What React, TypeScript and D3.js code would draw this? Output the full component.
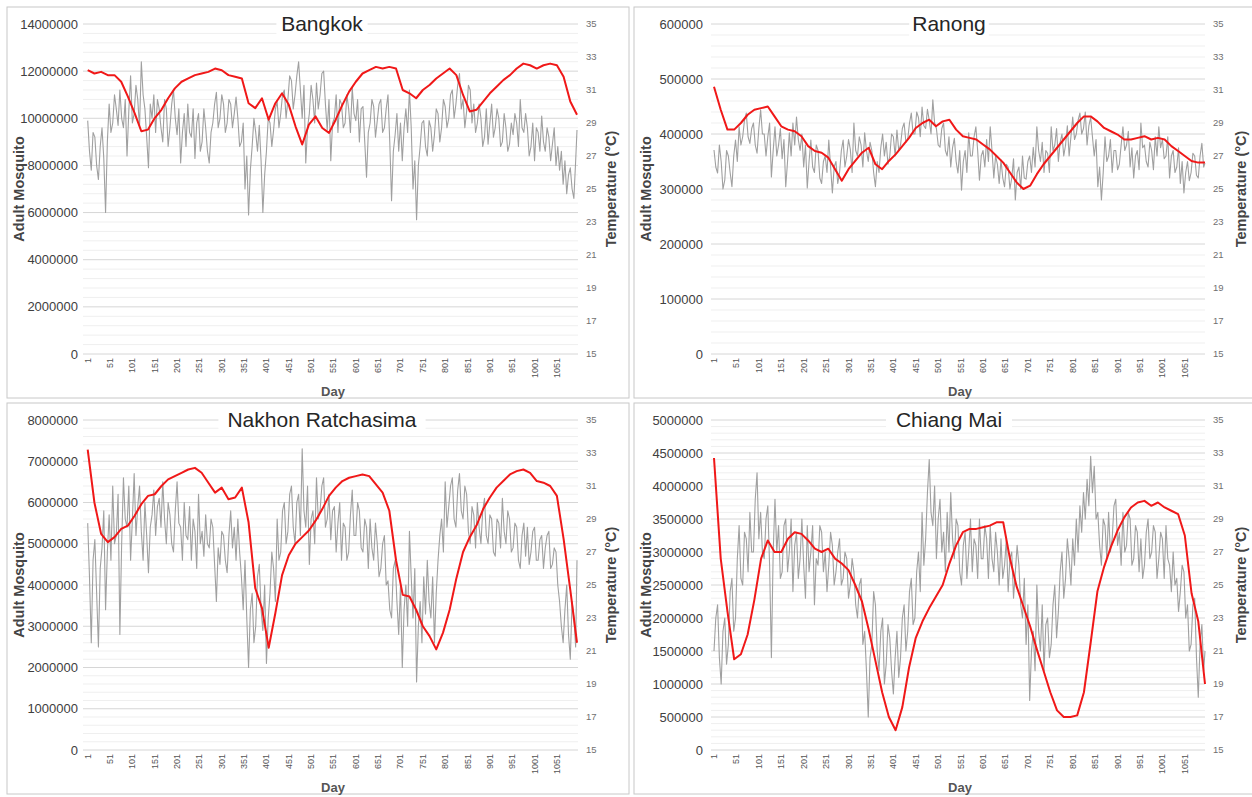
import React from 'react';
import * as d3 from 'd3';

// ---------- data ----------
const GREY_STEP = 4; // mosquito read every 4 days
const RED_STEP = 15; // temperature read every 15 days
const LAST_DAY = 1096;
const dayTicks = [1, 51, 101, 151, 201, 251, 301, 351, 401, 451, 501, 551, 601, 651, 701, 751, 801, 851, 901, 951, 1001, 1051];
const tempTicks = [15, 17, 19, 21, 23, 25, 27, 29, 31, 33, 35];

// Bangkok adult mosquito (millions)
const bangkokMosquito = [
  9.9, 8.6, 7.8, 9.4, 9.2, 8.0, 7.4, 8.8, 9.6, 8.3,
  6.0, 9.0, 10.6, 9.4, 9.8, 11.0, 10.4, 9.7, 11.2, 10.0,
  9.6, 10.8, 8.4, 10.3, 11.8, 9.8, 10.2, 11.4, 10.8, 9.6,
  12.4, 11.0, 10.4, 9.2, 7.9, 10.6, 10.0, 11.0, 9.4, 10.8,
  10.4, 9.6, 9.0, 10.8, 10.4, 8.8, 9.6, 10.6, 11.2, 10.0,
  9.3, 10.4, 8.1, 9.4, 10.2, 8.8, 10.6, 9.4, 9.2, 10.4,
  8.3, 9.8, 10.2, 8.6, 9.0, 10.4, 9.6, 8.6, 8.1, 9.4,
  9.8, 10.6, 11.1, 9.6, 10.0, 11.0, 10.6, 9.4, 9.8, 10.8,
  10.6, 9.6, 10.2, 10.9, 10.0, 8.8, 9.0, 9.8, 7.0, 8.4,
  5.9, 7.8, 8.8, 10.0, 9.4, 8.6, 9.7, 8.2, 6.0, 7.6,
  8.6, 10.0, 9.8, 8.8, 9.5, 10.4, 10.7, 9.6, 10.2, 11.0,
  11.2, 10.0, 10.8, 11.8, 11.6, 10.4, 11.0, 11.8, 12.4, 11.2,
  10.0, 11.4, 8.1, 9.6, 10.2, 11.4, 10.8, 9.8, 11.5, 10.4,
  11.0, 11.9, 12.0, 10.6, 9.5, 10.8, 8.2, 9.8, 10.0, 11.0,
  9.4, 10.8, 10.6, 9.6, 9.8, 11.0, 10.4, 9.4, 11.3, 10.2,
  9.9, 10.8, 9.0, 10.4, 10.5, 9.0, 7.5, 9.4, 9.8, 10.8,
  10.5, 9.2, 9.9, 10.6, 10.8, 9.4, 9.6, 10.4, 11.0, 9.0,
  6.5, 8.6, 9.3, 10.2, 8.6, 9.8, 8.2, 9.6, 10.4, 9.4,
  11.2, 9.6, 7.0, 8.2, 5.7, 8.0, 8.8, 9.8, 9.9, 8.8,
  8.4, 9.9, 9.6, 8.6, 9.3, 10.4, 10.2, 9.0, 9.6, 10.8,
  10.5, 9.6, 10.0, 11.0, 11.2, 10.0, 10.6, 11.4, 11.9, 10.4,
  10.8, 9.6, 10.3, 11.4, 11.2, 9.8, 10.6, 9.4, 9.8, 10.6,
  10.0, 8.8, 9.2, 10.4, 8.9, 9.8, 10.6, 9.2, 9.6, 10.4,
  10.0, 8.8, 9.0, 10.2, 9.6, 8.6, 8.9, 9.8, 9.3, 10.2,
  9.8, 8.8, 10.8, 9.6, 9.4, 10.2, 9.6, 8.4, 8.8, 9.8,
  8.2, 9.6, 9.4, 8.6, 10.1, 9.0, 8.6, 9.6, 9.2, 8.2,
  8.9, 9.6, 8.0, 8.8, 7.8, 8.6, 7.2, 8.2, 6.8, 7.6,
  7.9, 7.0, 6.6, 8.2, 9.5,
];
// Bangkok temperature (°C)
const bangkokTemp = [
  32.2, 32.0, 32.1, 31.9, 31.9, 31.5, 30.6, 29.6, 28.5, 28.6, 29.3, 29.8, 30.5, 31.1, 31.5, 31.7, 31.9, 32.0, 32.1, 32.3,
  32.2, 31.9, 31.8, 31.7, 30.2, 29.9, 30.5, 29.2, 30.2, 30.8, 30.1, 28.8, 27.7, 28.9, 29.4, 28.7, 28.4, 29.2, 30.1, 30.9,
  31.5, 32.0, 32.2, 32.4, 32.3, 32.4, 32.3, 31.0, 30.8, 30.5, 31.0, 31.3, 31.7, 32.0, 32.3, 31.9, 30.7, 29.7, 29.8, 30.3,
  30.8, 31.2, 31.6, 31.9, 32.3, 32.6, 32.5, 32.3, 32.5, 32.6, 32.5, 31.8, 30.3, 29.5,
];

// Ranong adult mosquito (thousands)
const ranongMosquito = [
  371, 340, 329, 380, 350, 300, 316, 370, 360, 330,
  304, 360, 389, 350, 413, 380, 395, 425, 438, 395,
  383, 410, 420, 380, 365, 410, 444, 400, 400, 360,
  395, 420, 322, 370, 413, 360, 380, 410, 355, 390,
  304, 350, 402, 360, 420, 380, 431, 390, 370, 400,
  340, 380, 302, 350, 389, 340, 330, 380, 370, 320,
  310, 350, 360, 330, 389, 340, 293, 340, 350, 310,
  330, 370, 389, 340, 360, 390, 372, 330, 420, 370,
  360, 395, 380, 340, 402, 370, 350, 385, 370, 330,
  304, 350, 330, 375, 400, 360, 385, 345, 360, 400,
  395, 360, 407, 370, 380, 410, 420, 385, 390, 420,
  438, 400, 400, 440, 430, 395, 449, 415, 410, 445,
  425, 400, 462, 420, 410, 380, 376, 410, 420, 370,
  360, 395, 340, 375, 392, 350, 329, 370, 298, 350,
  370, 330, 402, 360, 360, 395, 413, 370, 316, 360,
  370, 340, 390, 350, 413, 370, 320, 360, 345, 310,
  353, 320, 304, 345, 340, 300, 320, 355, 280, 330,
  340, 300, 360, 320, 318, 350, 360, 330, 376, 340,
  413, 370, 350, 385, 330, 370, 365, 330, 413, 370,
  380, 410, 350, 385, 400, 360, 380, 415, 360, 395,
  431, 390, 400, 425, 438, 400, 410, 440, 380, 415,
  430, 395, 360, 390, 304, 340, 280, 330, 395, 350,
  360, 390, 330, 370, 370, 335, 345, 380, 413, 370,
  380, 405, 340, 375, 320, 360, 370, 335, 420, 375,
  380, 350, 340, 385, 370, 335, 395, 360, 413, 375,
  390, 355, 360, 395, 320, 360, 370, 330, 340, 375,
  310, 350, 293, 330, 350, 315, 330, 365, 360, 325,
  320, 360, 383, 340, 347,
];
// Ranong temperature (°C)
const ranongTemp = [
  31.2, 29.8, 28.6, 28.6, 29.0, 29.5, 29.8, 29.9, 30.0, 29.4, 28.8, 28.6, 28.5, 28.2, 27.6, 27.3, 27.2, 26.9, 26.2, 25.5,
  26.2, 26.7, 27.2, 27.5, 26.5, 26.2, 26.7, 27.1, 27.6, 28.1, 28.7, 29.0, 29.2, 28.8, 29.1, 29.2, 28.6, 28.2, 28.1, 28.0,
  27.7, 27.4, 27.0, 26.6, 26.0, 25.4, 25.0, 25.2, 25.9, 26.5, 27.0, 27.5, 28.0, 28.5, 29.0, 29.4, 29.4, 29.1, 28.7, 28.5,
  28.3, 28.0, 28.0, 28.1, 28.2, 28.0, 28.1, 28.0, 27.6, 27.3, 27.0, 26.7, 26.6, 26.6,
];

// Nakhon Ratchasima adult mosquito (millions)
const nakhonMosquito = [
  5.5, 4.2, 2.6, 4.6, 5.1, 3.8, 2.5, 4.4, 4.9, 5.8,
  3.4, 4.8, 5.7, 4.6, 6.4, 5.0, 5.2, 6.2, 2.8, 5.0,
  6.6, 5.6, 5.4, 6.4, 4.6, 5.6, 6.7, 5.2, 5.9, 6.4,
  5.3, 4.6, 6.0, 5.2, 4.3, 5.4, 5.7, 6.3, 5.2, 5.9,
  6.1, 5.4, 6.5, 5.6, 5.0, 6.0, 5.7, 5.0, 4.8, 5.8,
  6.5, 5.5, 5.4, 4.6, 6.0, 5.2, 5.1, 5.9, 4.6, 5.6,
  5.3, 4.4, 6.2, 5.0, 5.3, 4.7, 5.7, 5.0, 4.9, 5.6,
  5.4, 4.5, 3.6, 4.9, 4.5, 5.3, 5.2, 4.6, 4.3, 5.2,
  5.8, 4.9, 5.4, 4.6, 5.6, 4.8, 4.2, 3.4, 4.6, 3.2,
  2.0, 3.4, 3.8, 2.6, 3.0, 4.2, 4.5, 3.4, 2.9, 4.0,
  2.1, 3.2, 3.8, 4.8, 4.4, 3.6, 5.6, 4.6, 4.8, 5.8,
  6.0, 5.0, 5.3, 6.2, 6.4, 5.4, 5.0, 6.0, 6.2, 5.2,
  7.3, 5.8, 5.4, 6.4, 4.5, 5.6, 5.8, 5.0, 6.6, 5.6,
  5.8, 6.4, 6.6, 5.4, 5.6, 6.2, 5.1, 5.8, 5.9, 4.8,
  5.5, 6.0, 4.6, 5.5, 5.4, 4.6, 4.8, 5.7, 6.3, 5.2,
  5.2, 6.0, 5.8, 4.9, 4.8, 5.6, 5.4, 4.4, 5.6, 4.9,
  4.6, 5.5, 5.0, 4.2, 4.4, 5.0, 5.2, 4.0, 4.1, 3.4,
  3.2, 4.4, 4.6, 3.6, 2.8, 4.0, 2.0, 3.4, 4.0, 3.0,
  5.3, 4.2, 3.2, 4.4, 1.65, 3.0, 3.6, 2.6, 4.2, 3.3,
  4.6, 3.6, 3.2, 4.2, 2.6, 3.8, 4.6, 5.2, 5.6, 4.8,
  6.5, 5.4, 5.9, 6.4, 6.6, 5.6, 5.4, 6.3, 6.7, 5.8,
  5.6, 6.4, 6.2, 5.3, 5.0, 5.9, 5.7, 4.9, 6.0, 5.4,
  5.0, 5.8, 6.1, 5.2, 5.0, 5.7, 5.6, 4.8, 4.7, 5.6,
  5.5, 4.9, 6.1, 5.3, 5.0, 5.8, 5.6, 4.8, 4.9, 5.5,
  5.4, 4.6, 4.4, 5.2, 5.5, 4.7, 5.4, 4.5, 4.8, 5.3,
  5.4, 4.6, 4.6, 5.1, 5.2, 4.4, 4.9, 5.2, 5.3, 4.4,
  4.5, 4.9, 4.8, 4.0, 3.6, 3.0, 2.6, 3.4, 4.0, 2.8,
  2.2, 3.6, 3.2, 2.5, 4.6,
];
// Nakhon Ratchasima temperature (°C)
const nakhonTemp = [
  33.2, 30.0, 28.1, 27.6, 27.9, 28.4, 28.6, 29.2, 29.9, 30.4, 30.5, 31.0, 31.4, 31.6, 31.8, 32.0, 32.1, 31.8, 31.2, 30.6,
  30.9, 30.2, 30.3, 30.9, 28.8, 24.8, 23.6, 21.2, 23.3, 25.6, 26.8, 27.5, 27.9, 28.3, 28.9, 29.6, 30.4, 30.9, 31.3, 31.5,
  31.6, 31.7, 31.6, 31.1, 30.6, 29.5, 26.5, 24.4, 24.3, 23.5, 22.5, 21.9, 21.1, 22.1, 23.5, 25.4, 27.0, 27.9, 28.6, 29.6,
  30.3, 30.9, 31.3, 31.7, 31.9, 32.0, 31.8, 31.3, 31.2, 31.0, 30.4, 27.8, 24.7, 21.5,
];

// Chiang Mai adult mosquito (millions)
const chiangMaiMosquito = [
  1.5, 2.0, 2.2, 1.4, 1.0, 1.8, 2.0, 1.3, 1.6, 2.4,
  2.6, 1.8, 2.0, 2.9, 3.4, 2.6, 2.5, 3.3, 3.2, 2.7,
  3.6, 3.0, 3.0, 3.8, 4.2, 3.2, 3.6, 3.0, 2.9, 3.5,
  3.7, 2.8, 1.4, 3.0, 3.8, 3.0, 3.4, 2.6, 2.7, 3.4,
  3.5, 2.7, 3.0, 3.5, 2.4, 3.1, 3.3, 2.6, 2.9, 3.5,
  2.8, 2.3, 3.4, 2.7, 3.0, 3.4, 2.2, 2.9, 2.8, 3.4,
  3.3, 2.7, 3.0, 2.4, 2.8, 3.3, 3.1, 2.5, 2.7, 3.0,
  3.2, 2.5, 2.6, 3.0, 2.9, 2.3, 2.5, 2.9, 2.7, 2.2,
  2.0, 2.5, 2.6, 1.6, 1.8, 1.2, 0.5, 1.4, 1.6, 2.4,
  2.2, 1.5, 1.2, 1.8, 2.0, 1.0, 1.3, 1.9, 1.7, 1.2,
  0.85, 1.4, 1.8, 1.1, 1.4, 2.0, 2.2, 1.5, 1.8, 2.4,
  2.6, 1.9, 2.0, 2.7, 3.0, 2.4, 3.6, 2.8, 3.2, 3.9,
  4.4, 3.6, 3.4, 4.0, 2.9, 3.5, 3.8, 3.0, 3.3, 2.7,
  3.6, 3.0, 3.9, 3.2, 2.9, 3.5, 3.4, 2.7, 2.5, 3.1,
  3.3, 2.6, 3.0, 3.5, 2.7, 3.2, 3.1, 2.6, 3.5, 2.9,
  2.9, 3.4, 3.2, 2.6, 3.4, 2.9, 2.7, 3.3, 3.0, 2.5,
  3.2, 2.6, 2.8, 3.2, 2.4, 2.9, 3.0, 2.3, 2.7, 3.1,
  2.8, 2.2, 2.0, 2.6, 1.6, 2.2, 0.75, 1.5, 1.8, 1.2,
  2.5, 1.8, 1.5, 2.2, 1.2, 1.9, 2.0, 1.4, 1.6, 2.2,
  2.5, 1.7, 2.1, 2.7, 3.0, 2.3, 2.6, 3.2, 2.9, 2.5,
  3.2, 2.8, 3.5, 3.0, 3.7, 3.3, 3.9, 3.5, 4.1, 3.7,
  4.45, 3.9, 4.3, 3.5, 3.6, 3.1, 2.8, 3.5, 3.4, 2.9,
  3.6, 3.0, 3.2, 3.7, 3.8, 3.1, 3.3, 2.8, 3.6, 3.0,
  3.1, 3.6, 3.5, 2.8, 2.9, 3.4, 3.3, 2.7, 3.2, 2.6,
  2.8, 3.3, 3.5, 2.9, 3.0, 3.4, 3.3, 2.6, 2.9, 3.3,
  3.2, 2.6, 3.4, 2.9, 2.8, 2.4, 3.0, 2.5, 2.6, 2.1,
  2.4, 2.8, 2.7, 2.0, 2.2, 1.5, 1.6, 2.2, 2.3, 1.4,
  0.8, 1.6, 1.9, 1.2, 1.5,
];
// Chiang Mai temperature (°C)
const chiangMaiTemp = [
  32.7, 26.6, 23.4, 20.5, 20.8, 22.0, 24.1, 26.6, 27.7, 27.0, 27.0, 27.8, 28.2, 28.1, 27.7, 27.2, 27.0, 27.2, 26.6, 26.3,
  25.9, 25.0, 24.0, 22.3, 20.4, 18.5, 17.0, 16.2, 17.6, 20.0, 21.8, 22.8, 23.6, 24.3, 25.0, 26.3, 27.4, 28.2, 28.4, 28.4,
  28.5, 28.6, 28.8, 28.8, 26.6, 24.9, 23.7, 22.5, 21.1, 19.8, 18.5, 17.4, 17.0, 17.0, 17.1, 18.5, 21.5, 24.6, 26.1, 27.3,
  28.3, 29.1, 29.7, 30.0, 30.1, 29.8, 30.0, 29.7, 29.5, 29.3, 28.0, 24.5, 22.8, 19.0,
];

// ---------- layout ----------
type PanelCfg = {
  title: string;
  mosq: number[];
  unit: number;
  temp: number[];
  leftMax: number;
  leftStep: number;
  ox: number;
  oy: number;
  x1: number;
  xN: number;
  gridL: number;
  gridR: number;
  leftLabelX: number;
  rightLabelX: number;
  leftTitleX: number;
  rightTitleX: number;
};

const panels: PanelCfg[] = [
  { title: 'Bangkok', mosq: bangkokMosquito, unit: 1e6, temp: bangkokTemp, leftMax: 14e6, leftStep: 2e6, ox: 7, oy: 0,
    x1: 87.7, xN: 577, gridL: 83, gridR: 578, leftLabelX: 78, rightLabelX: 586, leftTitleX: 19, rightTitleX: 611 },
  { title: 'Ranong', mosq: ranongMosquito, unit: 1e3, temp: ranongTemp, leftMax: 6e5, leftStep: 1e5, ox: 634, oy: 0,
    x1: 714, xN: 1205, gridL: 711, gridR: 1205, leftLabelX: 703, rightLabelX: 1213, leftTitleX: 646, rightTitleX: 1241 },
  { title: 'Nakhon Ratchasima', mosq: nakhonMosquito, unit: 1e6, temp: nakhonTemp, leftMax: 8e6, leftStep: 1e6, ox: 7, oy: 396,
    x1: 87.7, xN: 577, gridL: 83, gridR: 578, leftLabelX: 78, rightLabelX: 586, leftTitleX: 19, rightTitleX: 611 },
  { title: 'Chiang Mai', mosq: chiangMaiMosquito, unit: 1e6, temp: chiangMaiTemp, leftMax: 5e6, leftStep: 5e5, ox: 634, oy: 396,
    x1: 714, xN: 1205, gridL: 711, gridR: 1205, leftLabelX: 703, rightLabelX: 1213, leftTitleX: 646, rightTitleX: 1241 },
];

const FONT = '"Liberation Sans", Arial, sans-serif';

function Panel({ p }: { p: PanelCfg }) {
  const top = p.oy + 24;
  const bottom = p.oy + 354;
  const x = d3.scaleLinear().domain([1, LAST_DAY]).range([p.x1, p.xN]);
  const yL = d3.scaleLinear().domain([0, p.leftMax]).range([bottom, top]);
  const yR = d3.scaleLinear().domain([15, 35]).range([bottom, top]);
  const leftTicks = d3.range(0, p.leftMax + p.leftStep / 2, p.leftStep);
  const minorStep = p.leftStep / 5;
  const minorTicks = d3
    .range(0, p.leftMax + minorStep / 2, minorStep)
    .filter((_, i) => i % 5 !== 0);

  const mosqLine = d3
    .line<number>()
    .x((_, i) => x(Math.min(1 + i * GREY_STEP, LAST_DAY)))
    .y((v) => yL(v * p.unit));
  const tempLine = d3
    .line<number>()
    .x((_, i) => x(Math.min(1 + i * RED_STEP, LAST_DAY)))
    .y((v) => yR(v));

  const titleCx = p.ox + 315;
  const titleW = p.title.length * 11.6 + 10;
  const midY = (top + bottom) / 2;

  return (
    <g>
      <rect x={p.ox} y={p.oy + 7} width={622} height={391} fill="#fff" stroke="#c8c8c8" strokeWidth={1} />
      {minorTicks.map((t) => (
        <line key={'m' + t} x1={p.gridL} x2={p.gridR} y1={yL(t)} y2={yL(t)} stroke="#efefef" strokeWidth={1} />
      ))}
      {leftTicks.map((t) => (
        <line key={'l' + t} x1={p.gridL} x2={p.gridR} y1={yL(t)} y2={yL(t)} stroke="#d6d6d6" strokeWidth={1} />
      ))}
      {leftTicks.map((t) => (
        <text key={'lt' + t} x={p.leftLabelX} y={yL(t)} dy="0.35em" textAnchor="end" fontSize={13} fill="#404040" fontFamily={FONT}>
          {String(t)}
        </text>
      ))}
      {tempTicks.map((t) => (
        <text key={'rt' + t} x={p.rightLabelX} y={yR(t)} dy="0.35em" textAnchor="start" fontSize={9.5} fill="#707070" fontFamily={FONT}>
          {String(t)}
        </text>
      ))}
      {dayTicks.map((d) => (
        <text
          key={'x' + d}
          transform={`translate(${x(d) + 3},${bottom + 4}) rotate(-90)`}
          textAnchor="end"
          fontSize={9}
          fill="#555"
          fontFamily={FONT}
        >
          {String(d)}
        </text>
      ))}
      <path d={mosqLine(p.mosq) || ''} fill="none" stroke="#a0a0a0" strokeWidth={1.1} strokeLinejoin="round" />
      <path d={tempLine(p.temp) || ''} fill="none" stroke="#f01818" strokeWidth={2} strokeLinejoin="round" />
      <rect x={titleCx - titleW / 2} y={p.oy + 12} width={titleW} height={24} fill="#fff" />
      <text x={titleCx} y={p.oy + 31} textAnchor="middle" fontSize={21} fill="#262626" fontFamily={FONT}>
        {p.title}
      </text>
      <text x={p.ox + 326} y={p.oy + 396} textAnchor="middle" fontSize={13} fontWeight="bold" fill="#555" fontFamily={FONT}>
        Day
      </text>
      <text
        transform={`translate(${p.leftTitleX + 5},${midY}) rotate(-90)`}
        textAnchor="middle"
        fontSize={14.5}
        fontWeight="bold"
        fill="#444"
        fontFamily={FONT}
      >
        Adult Mosquito
      </text>
      <text
        transform={`translate(${p.rightTitleX + 5},${midY}) rotate(-90)`}
        textAnchor="middle"
        fontSize={14.5}
        fontWeight="bold"
        fill="#444"
        fontFamily={FONT}
      >
        Temperature (°C)
      </text>
    </g>
  );
}

export default function App() {
  return (
    <svg width={1252} height={797} style={{ position: 'absolute', left: 0, top: 0, background: '#fff' }}>
      <rect x={0} y={0} width={1252} height={797} fill="#fff" />
      {panels.map((p) => (
        <Panel key={p.title} p={p} />
      ))}
    </svg>
  );
}
